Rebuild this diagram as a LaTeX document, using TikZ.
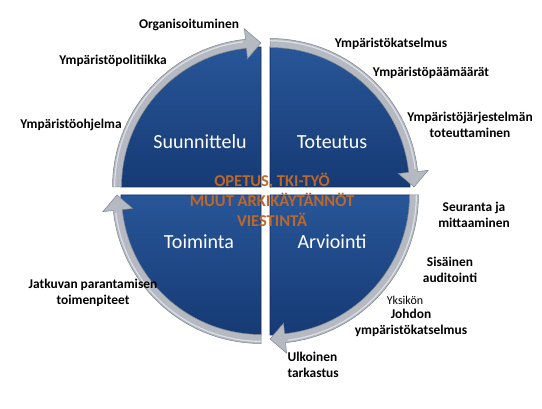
\documentclass[tikz,border=0pt]{standalone}
\usepackage{fontspec}
\setmainfont{Carlito}
\definecolor{ringgray}{RGB}{180,185,194}
\definecolor{ringedge}{RGB}{128,133,143}
\definecolor{quadtop}{RGB}{40,86,152}
\definecolor{quadbot}{RGB}{22,58,116}
\definecolor{quadedge}{RGB}{18,44,92}
\definecolor{coretext}{RGB}{190,104,40}
\tikzset{
  quadlabel/.style={text=white,font=\fontsize{20}{24}\selectfont},
  sidelabel/.style={font=\bfseries\fontsize{13.4}{16.5}\selectfont,align=center},
  ringarrow/.style={fill=ringgray,draw=ringedge,line width=0.5pt},
}
\begin{document}
\begin{tikzpicture}[x=1pt,y=1pt]
    \useasboundingbox (0,0) rectangle (542,408);
    % sininen ympyra neljana neljanneksena
    \foreach \cx/\cy/\a/\b in {261/221/90/180,270/221/0/90,270/213/-90/0,261/213/180/270} {
        \shade[top color=quadtop,bottom color=quadbot,draw=quadedge,line width=0.8pt]
            (\cx,\cy) -- ++(\a:140) arc (\a:\b:140) -- cycle;
    }
    % harmaat nuolet myotapaivaan
    \foreach \cx/\cy/\r in {261/221/0,270/221/-90,270/213/-180,261/213/-270} {
        \begin{scope}[shift={(\cx,\cy)},rotate=\r]
            \filldraw[ringarrow] (180:148.5) arc (180:96:148.5) -- (96:159) -- (90:144)
                -- (96:129) -- (96:139.5) arc (96:180:139.5) -- cycle;
            \draw[white,opacity=0.55,line width=1.2pt] (180:146.3) arc (180:97:146.3);
        \end{scope}
    }
    \node[quadlabel] (suunnittelu) at (200,266) {Suunnittelu};
    \node[quadlabel] (toteutus) at (332,266) {Toteutus};
    \node[quadlabel] (toiminta) at (199,166) {Toiminta};
    \node[quadlabel] (arviointi) at (332,166) {Arviointi};
    \node[font=\bfseries\fontsize{16.5}{20}\selectfont,text=coretext,align=center] (ydin) at (272,208)
        {OPETUS, TKI-TYÖ\\MUUT ARKIKÄYTÄNNÖT\\VIESTINTÄ};
    % vaiheiden tehtavat
    \node[sidelabel] (organisoituminen) at (189,383) {Organisoituminen};
    \node[sidelabel] (politiikka) at (113,347) {Ympäristöpolitiikka};
    \node[sidelabel] (ohjelma) at (71,283) {Ympäristöohjelma};
    \node[sidelabel] (katselmus) at (391,364) {Ympäristökatselmus};
    \node[sidelabel] (paamaarat) at (431,335) {Ympäristöpäämäärät};
    \node[sidelabel] (jarjestelma) at (470,283) {Ympäristöjärjestelmän\\toteuttaminen};
    \node[sidelabel] (seuranta) at (474,193) {Seuranta ja\\mittaaminen};
    \node[sidelabel] (auditointi) at (450,138) {Sisäinen\\auditointi};
    \node[font=\fontsize{12}{14}\selectfont,inner sep=1pt] (yksikon) at (405,108) {Yksikön};
    \node[sidelabel] (johdon) at (411,85) {Johdon\\ympäristökatselmus};
    \node[sidelabel,align=left,anchor=west] (ulkoinen) at (284,43) {Ulkoinen\\tarkastus};
    \node[sidelabel] (jatkuva) at (93,115) {Jatkuvan parantamisen\\toimenpiteet};
\end{tikzpicture}
\end{document}
